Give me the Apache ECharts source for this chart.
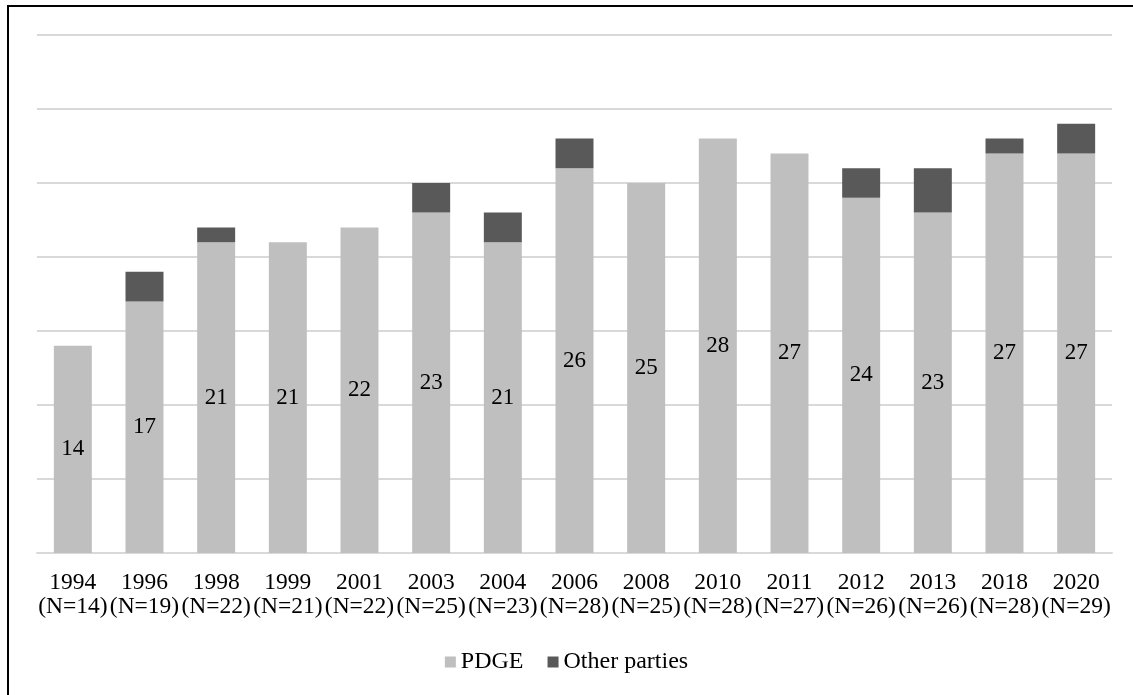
<!DOCTYPE html>
<html><head><meta charset="utf-8">
<script src="https://cdn.jsdelivr.net/npm/echarts@6/dist/echarts.min.js"></script>
<style>
html,body{margin:0;padding:0;background:#fff;overflow:hidden;}
#frame{position:absolute;left:7px;top:5px;width:1200px;height:800px;border-left:2px solid #000;border-top:2px solid #000;}
#main{position:absolute;left:0;top:0;width:1133px;height:695px;}
</style></head>
<body>
<div id="frame"></div>
<div id="main"></div>
<script>
const years = ['1994','1996','1998','1999','2001','2003','2004','2006','2008','2010','2011','2012','2013','2018','2020'];
const totals = [14,19,22,21,22,25,23,28,25,28,27,26,26,28,29];
const pdge = [14,17,21,21,22,23,21,26,25,28,27,24,23,27,27];
const other = [0,2,1,0,0,2,2,2,0,0,0,2,3,1,2];
const categories = years.map((y,i)=>y+'\n(N='+totals[i]+')');
const font = '"Liberation Serif","Times New Roman",serif';
const chart = echarts.init(document.getElementById('main'));
chart.setOption({
  animation:false,
  textStyle:{fontFamily:font},
  grid:{left:37,right:21,top:35,bottom:142},
  legend:{top:645,left:'center',itemWidth:11,itemHeight:11,itemGap:24,icon:'rect',
    textStyle:{fontFamily:font,fontSize:24,color:'#000'},
    data:['PDGE','Other parties']},
  xAxis:{type:'category',data:categories,
    axisLine:{lineStyle:{color:'#d9d9d9',width:2}},axisTick:{show:false},
    axisLabel:{interval:0,margin:18,fontFamily:font,fontSize:23.5,color:'#000',lineHeight:24}},
  yAxis:{type:'value',min:0,max:35,interval:5,axisLabel:{show:false},axisLine:{show:false},axisTick:{show:false},
    splitLine:{lineStyle:{color:'#d9d9d9',width:2}}},
  series:[
    {name:'PDGE',type:'bar',stack:'a',data:pdge,barWidth:'53%',itemStyle:{color:'#bfbfbf'},
     label:{show:true,position:'inside',fontFamily:font,fontSize:23,color:'#000'}},
    {name:'Other parties',type:'bar',stack:'a',data:other,itemStyle:{color:'#595959'}}
  ]
});
</script>
</body></html>
